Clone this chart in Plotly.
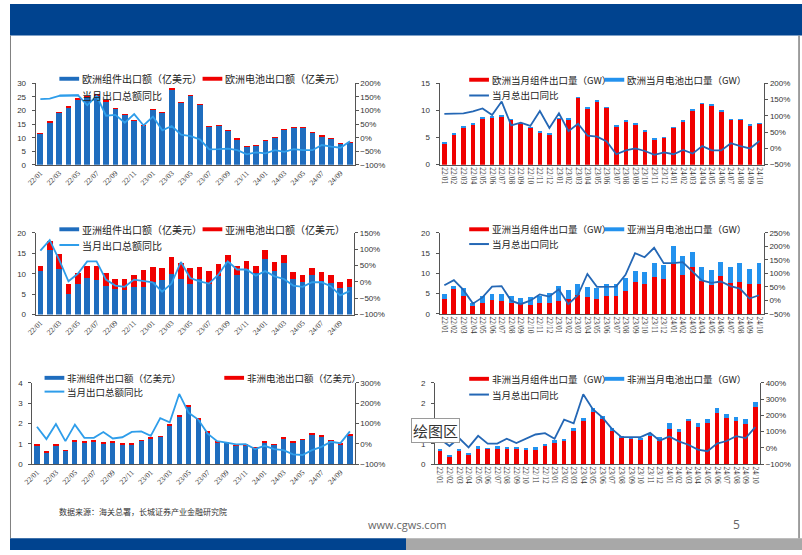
import plotly.graph_objects as go

W, H = 802, 555

months = ["22/01","22/02","22/03","22/04","22/05","22/06","22/07","22/08","22/09","22/10","22/11","22/12",
          "23/01","23/02","23/03","23/04","23/05","23/06","23/07","23/08","23/09","23/10","23/11","23/12",
          "24/01","24/02","24/03","24/04","24/05","24/06","24/07","24/08","24/09","24/10"]

# Chart 1: Europe export value (100M USD)
eu_mod_val = [11.4,15.6,19.2,21.1,24.1,24.9,25.5,23.1,20.5,18.3,16.1,14.4,20.2,19.2,27.5,22.9,25.3,21.9,13.8,14.3,12.5,9.3,6.6,6.8,8.7,9.8,12.7,13.6,13.6,11.8,10.4,9.6,7.8,8.1]
eu_bat_val = [0.1,0.1,0.1,0.1,0.3,0.1,0.1,0.5,0.1,0.1,0.1,0.1,0.1,0.1,0.5,0.1,0.1,0.1,0.1,0.1,0.1,0.1,0.1,0.1,0.1,0.1,0.1,0.1,0.1,0.1,0.1,0.1,0.1,0.1]
eu_yoy_val = [142,144,154,156,157,120,154,81,84,55,87,45,78,27,43,11,6,-6,-43,-42,-40,-46,-61,-54,-58,-46,-52,-42,-46,-46,-27,-33,-37,-13]

# Chart 2: Europe export volume (GW)
eu_mod_gw = [3.9,5.5,6.85,7.4,8.45,8.7,8.85,8.2,7.5,6.7,5.9,5.5,8.4,8.3,12.3,10.3,11.6,10.4,7.0,7.9,7.4,6.1,4.6,4.9,6.7,7.9,10.0,11.2,10.9,9.75,8.2,8.2,7.1,7.45]
eu_bat_gw = [0.2,0.1,0.15,0.1,0.15,0.1,0.15,0.1,0.1,0.1,0.1,0.1,0.1,0.1,0.1,0.1,0.1,0.1,0.1,0.1,0.1,0.1,0.1,0.1,0.1,0.1,0.1,0.1,0.1,0.15,0.1,0.1,0.3,0.15]
eu_yoy_gw = [106,106,108,114,123,103,144,71,79,69,115,63,108,53,76,39,36,21,-18,-6,0,-8,-20,-12,-18,-5,-16,7,-6,-6,16,7,0,23]

# Chart 3: Asia export value
as_mod_val = [10.6,15.7,11.2,5.1,7.6,9.0,8.4,7.1,6.3,5.9,6.7,6.8,8.0,8.4,10.0,8.6,7.4,8.6,7.6,9.4,12.8,9.6,11.2,10.2,13.6,10.6,12.6,8.6,8.0,9.6,8.2,7.8,6.5,6.8]
as_bat_val = [1.4,2.4,3.6,2.5,2.6,2.8,3.4,3.1,2.5,2.9,2.9,4.0,3.7,3.0,4.1,4.0,4.0,3.1,3.0,3.0,1.8,2.4,1.9,1.6,2.2,2.3,2.0,1.8,1.8,1.8,2.2,2.0,1.5,2.0]
as_yoy_val = [96,128,68,2,25,63,63,7,-11,-15,7,2,-1,-30,-5,61,12,2,-5,22,63,38,38,19,33,17,9,-11,-15,-1,-1,-13,-41,-28]

# Chart 4: Asia export volume
as_mod_gw = [3.8,6.1,4.3,1.9,2.8,3.4,3.2,2.8,2.5,2.3,2.6,2.8,3.2,3.8,4.6,4.2,3.8,4.5,4.3,5.7,7.9,7.4,9.1,8.6,12.4,9.6,11.6,8.1,7.1,9.3,7.6,7.8,7.3,7.3]
as_bat_gw = [1.0,0.9,2.0,0.9,1.7,1.6,1.8,1.7,1.4,1.8,1.7,2.3,3.8,2.1,2.8,2.4,2.7,3.0,3.2,3.1,2.7,3.0,3.5,3.4,4.4,4.7,3.7,3.4,3.8,3.5,4.1,4.8,3.8,5.3]
as_yoy_gw = [56,75,39,-12,11,51,53,-1,-14,-1,22,14,41,-14,19,98,50,50,51,95,175,160,195,138,138,142,108,74,65,70,53,44,7,19]

# Chart 5: Africa export value
af_mod_val = [0.95,0.59,0.95,0.67,1.11,1.07,1.14,1.03,1.05,0.99,0.98,1.16,1.26,1.35,1.85,2.32,2.82,2.22,1.56,1.07,1.05,0.92,0.94,0.79,1.06,0.97,1.29,1.07,1.20,1.45,1.36,1.15,1.00,1.42]
af_bat_val = [0.03,0.02,0.03,0.02,0.05,0.03,0.04,0.03,0.05,0.03,0.05,0.03,0.05,0.04,0.13,0.10,0.05,0.04,0.05,0.03,0.03,0.02,0.03,0.02,0.04,0.03,0.03,0.03,0.03,0.05,0.04,0.03,0.02,0.03]
af_yoy_val = [84,23,97,13,94,29,29,58,26,32,58,61,39,126,106,245,152,119,50,13,6,-3,-2,-26,-10,-26,-31,-52,-55,-31,-15,10,3,61]

# Chart 6: Africa export volume
af_mod_gw = [0.32,0.20,0.34,0.24,0.37,0.39,0.40,0.39,0.39,0.35,0.37,0.47,0.53,0.58,0.81,1.05,1.29,1.10,0.81,0.63,0.63,0.60,0.69,0.57,0.87,0.78,1.05,0.91,1.01,1.25,1.14,1.05,0.98,1.40]
af_bat_gw = [0.05,0.03,0.03,0.04,0.07,0.01,0.04,0.03,0.04,0.05,0.04,0.03,0.06,0.03,0.09,0.09,0.09,0.09,0.08,0.06,0.04,0.05,0.05,0.10,0.14,0.09,0.06,0.10,0.10,0.12,0.09,0.12,0.12,0.12]
af_yoy_gw = [56,11,60,3,74,26,26,56,30,56,82,90,56,173,151,329,238,187,117,66,64,66,92,44,70,40,19,-11,-21,26,42,72,60,127]

af_gw_tickvals = [0, 0.5, 1, 1.5, 2]
af_gw_ticktext = ["0", "1", "1", "2", "2"]

BLUE_D = "#1F6DBE"   # module value bars
RED = "#F00000"
BLUE_L = "#2392EE"   # battery GW bars
LINE_L = "#2E9DEA"   # yoy line (value charts)
LINE_D = "#2467B5"   # yoy line (GW charts)

TICKF = dict(family="Liberation Sans Narrow, Liberation Sans, Arial", size=8, color="#333333")
XTF = dict(family="Liberation Serif, Times New Roman, serif", size=7.5, color="#333333")
CJK = "Noto Sans CJK SC"

def px(x):
    return x / W

def py(y):
    return 1 - y / H

charts = [
    dict(box=(26, 349, 80.7, 163.5), mod=eu_mod_val, bat=eu_bat_val, yoy=eu_yoy_val, bw=0.62, fs=10,
         cm=BLUE_D, cb=RED, cl=LINE_L, yl=(0, 30, 5), yr=(-100, 200, 50), every=2, angle=-45,
         leg=[("bar", BLUE_D, 50, 76, "欧洲组件出口额（亿美元）"), ("bar", RED, 195, 76, "欧洲电池出口额（亿美元）"),
              ("line", LINE_L, 50, 93, "当月出口总额同比")]),
    dict(box=(435, 763.8, 80.7, 163.3), mod=eu_mod_gw, bat=eu_bat_gw, yoy=eu_yoy_gw, bw=0.48, fs=9.5,
         cm=RED, cb=BLUE_L, cl=LINE_D, yl=(0, 15, 5), yr=(-50, 200, 50), every=1, angle=90,
         leg=[("bar", RED, 465, 77, "欧洲当月组件出口量（GW）"), ("bar", BLUE_L, 602, 77, "欧洲当月电池出口量（GW）"),
              ("line", LINE_D, 465, 93, "当月总出口同比")]),
    dict(box=(26, 348.5, 232.7, 315.7), mod=as_mod_val, bat=as_bat_val, yoy=as_yoy_val, bw=0.6, fs=10,
         cm=BLUE_D, cb=RED, cl=LINE_L, yl=(0, 20, 5), yr=(-100, 150, 50), every=2, angle=-45,
         leg=[("bar", BLUE_D, 50, 229, "亚洲组件出口额（亿美元）"), ("bar", RED, 195, 229, "亚洲电池出口额（亿美元）"),
              ("line", LINE_L, 50, 245, "当月出口总额同比")]),
    dict(box=(435, 763.3, 232.7, 315), mod=as_mod_gw, bat=as_bat_gw, yoy=as_yoy_gw, bw=0.52, fs=9.5,
         cm=RED, cb=BLUE_L, cl=LINE_D, yl=(0, 20, 5), yr=(-50, 250, 50), every=1, angle=90,
         leg=[("bar", RED, 465, 229, "亚洲当月组件出口量（GW）"), ("bar", BLUE_L, 602, 229, "亚洲当月电池出口量（GW）"),
              ("line", LINE_D, 465, 244, "当月总出口同比")]),
    dict(box=(22.5, 349, 385, 467.7), mod=af_mod_val, bat=af_bat_val, yoy=af_yoy_val, bw=0.55, fs=9.5,
         cm=BLUE_D, cb=RED, cl=LINE_L, yl=(0, 4, 1), yr=(-100, 300, 100), every=2, angle=-45,
         leg=[("bar", BLUE_D, 35, 380, "非洲组件出口额（亿美元）"), ("bar", RED, 217, 380, "非洲电池出口额（亿美元）"),
              ("line", LINE_L, 35, 394, "当月出口总额同比")]),
    dict(box=(430.5, 759.5, 385, 467.7), mod=af_mod_gw, bat=af_bat_gw, yoy=af_yoy_gw, bw=0.48, fs=9.5,
         cm=RED, cb=BLUE_L, cl=LINE_D, yl=(0, 2, 0.5), yr=(-100, 400, 100), every=1, angle=90,
         ticks=(af_gw_tickvals, af_gw_ticktext),
         leg=[("bar", RED, 465, 381, "非洲当月组件出口量（GW）"), ("bar", BLUE_L, 602, 381, "非洲当月电池出口量（GW）"),
              ("line", LINE_D, 465, 397, "当月总出口同比")]),
]

fig = go.Figure()
shapes = []
annotations = []
layout = {}

for i, c in enumerate(charts, start=1):
    xa = "x" if i == 1 else f"x{i}"
    yl_id = 2 * i - 1
    yr_id = 2 * i
    yla = "y" if yl_id == 1 else f"y{yl_id}"
    yra = f"y{yr_id}"
    fig.add_trace(go.Bar(x=months, y=c["mod"], width=c["bw"], marker=dict(color=c["cm"], line=dict(width=0)),
                         xaxis=xa, yaxis=yla, showlegend=False))
    fig.add_trace(go.Bar(x=months, y=c["bat"], width=c["bw"], marker=dict(color=c["cb"], line=dict(width=0)),
                         xaxis=xa, yaxis=yla, showlegend=False))
    fig.add_trace(go.Scatter(x=months, y=c["yoy"], mode="lines", line=dict(color=c["cl"], width=1.8),
                             xaxis=xa, yaxis=yra, showlegend=False))
    x0, x1, yt, yb = c["box"]
    xkey = "xaxis" if i == 1 else f"xaxis{i}"
    ylkey = "yaxis" if yl_id == 1 else f"yaxis{yl_id}"
    yrkey = f"yaxis{yr_id}"
    tv = months[::c["every"]]
    layout[xkey] = dict(domain=[px(x0), px(x1)], anchor=yla, type="category",
                        tickmode="array", tickvals=tv, ticktext=tv, tickangle=c["angle"],
                        tickfont=XTF, showline=True, linecolor="#555555", linewidth=1,
                        showgrid=False, zeroline=False, ticks="", range=[-0.5, len(months) - 0.5])
    lo, hi, dt = c["yl"]
    yl_cfg = dict(domain=[py(yb), py(yt)], anchor=xa, range=[lo, hi], dtick=dt, tick0=lo,
                  showline=True, linecolor="#555555", linewidth=1, ticks="outside", ticklen=3,
                  tickcolor="#555555", tickfont=TICKF, showgrid=False, zeroline=False,
                  ticklabelstandoff=4)
    if "ticks" in c:
        yl_cfg.update(tickmode="array", tickvals=c["ticks"][0], ticktext=c["ticks"][1])
    layout[ylkey] = yl_cfg
    lo, hi, dt = c["yr"]
    layout[yrkey] = dict(overlaying=yla, anchor=xa, side="right", range=[lo, hi], dtick=dt, tick0=lo,
                         ticksuffix="%", showline=True, linecolor="#555555", linewidth=1,
                         ticks="outside", ticklen=3, tickcolor="#555555", tickfont=TICKF,
                         showgrid=False, zeroline=False)
    # legends
    for kind, col, lx, ly, txt in c["leg"]:
        if kind == "bar":
            shapes.append(dict(type="rect", xref="paper", yref="paper", x0=px(lx), x1=px(lx + 20),
                               y0=py(ly + 2), y1=py(ly - 2), fillcolor=col, line=dict(width=0)))
        else:
            shapes.append(dict(type="line", xref="paper", yref="paper", x0=px(lx), x1=px(lx + 20),
                               y0=py(ly), y1=py(ly), line=dict(color=col, width=2)))
        annotations.append(dict(xref="paper", yref="paper", x=px(lx + 21), y=py(ly), text=txt,
                                showarrow=False, xanchor="left", yanchor="middle",
                                font=dict(family=CJK, size=c["fs"], color="#222222")))

# page decoration
shapes.insert(0, dict(type="rect", xref="paper", yref="paper", x0=0, x1=1, y0=py(32), y1=1,
                      fillcolor="#00438F", line=dict(width=0), layer="below"))
shapes.insert(0, dict(type="rect", xref="paper", yref="paper", x0=0, x1=px(401), y0=0, y1=py(543),
                      fillcolor="#00438F", line=dict(width=0), layer="below"))
shapes.insert(0, dict(type="rect", xref="paper", yref="paper", x0=px(401), x1=1, y0=0, y1=py(543),
                      fillcolor="#A8A8A8", line=dict(width=0), layer="below"))
shapes.append(dict(type="line", xref="paper", yref="paper", x0=px(0.5), x1=px(0.5), y0=py(543), y1=py(32),
                   line=dict(color="#808080", width=1)))
shapes.append(dict(type="line", xref="paper", yref="paper", x0=px(799), x1=px(799), y0=py(543), y1=py(32),
                   line=dict(color="#808080", width=1.5)))

annotations.append(dict(xref="paper", yref="paper", x=px(48), y=py(516), text="数据来源：海关总署，长城证券产业金融研究院",
                        showarrow=False, xanchor="left", yanchor="middle",
                        font=dict(family=CJK, size=8, color="#333333")))
annotations.append(dict(xref="paper", yref="paper", x=px(402), y=py(529), text="www.cgws.com",
                        showarrow=False, xanchor="center", yanchor="middle",
                        font=dict(family="Open Sans, Liberation Sans", size=11, color="#666666")))
annotations.append(dict(xref="paper", yref="paper", x=px(736), y=py(529), text="5",
                        showarrow=False, xanchor="center", yanchor="middle",
                        font=dict(family="Open Sans, Liberation Sans", size=12, color="#666666")))
annotations.append(dict(xref="paper", yref="paper", x=px(431), y=py(434), text="绘图区",
                        showarrow=False, xanchor="center", yanchor="middle", bgcolor="white",
                        bordercolor="#9A9A9A", borderwidth=1, borderpad=1,
                        font=dict(family=CJK, size=15, color="#333333")))

fig.update_layout(width=W, height=H, margin=dict(l=0, r=0, t=0, b=0),
                  paper_bgcolor="white", plot_bgcolor="rgba(0,0,0,0)",
                  barmode="stack", showlegend=False,
                  shapes=shapes, annotations=annotations, **layout)

fig.write_html("out.html", config={"displayModeBar": False},
               post_script="document.body.style.margin='0';document.body.style.overflow='hidden';")
